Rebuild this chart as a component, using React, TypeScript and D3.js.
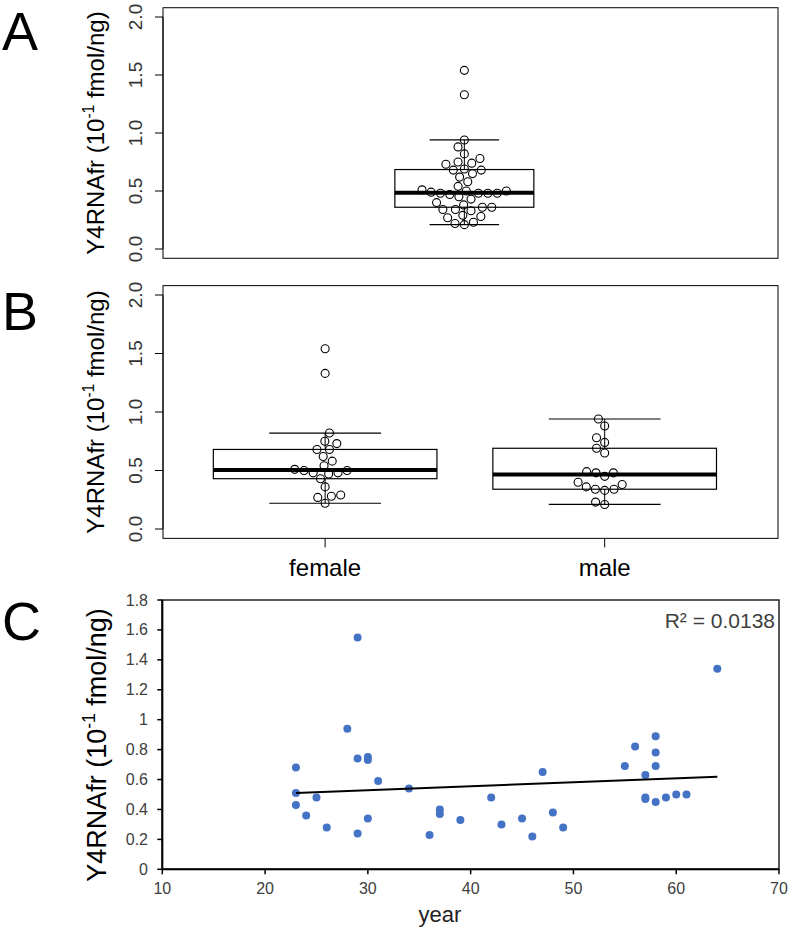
import React from 'react';
import * as d3 from 'd3';

// ---------- Data ----------
const femaleValues = [1.54, 1.33, 0.82, 0.75, 0.73, 0.68, 0.68, 0.62, 0.58, 0.54, 0.51, 0.5, 0.5, 0.48, 0.48, 0.47, 0.43, 0.36, 0.29, 0.28, 0.27, 0.22];
const maleValues = [0.94, 0.88, 0.78, 0.74, 0.69, 0.65, 0.49, 0.48, 0.48, 0.45, 0.4, 0.38, 0.36, 0.34, 0.34, 0.33, 0.23, 0.21];
const groupNames = ['female', 'male'];
const boxTicks = [0, 0.5, 1, 1.5, 2];
const boxTickLabels = ['0.0', '0.5', '1.0', '1.5', '2.0'];

const ages = [23, 23, 23, 24, 25, 26, 28, 29, 29, 29, 30, 30, 30, 31, 34, 36, 37, 37, 39, 42, 43, 45, 46, 47, 48, 49, 55, 56, 57, 57, 57, 58, 58, 58, 58, 59, 60, 61, 64];
const levels = [0.68, 0.51, 0.43, 0.36, 0.48, 0.28, 0.94, 1.55, 0.74, 0.24, 0.75, 0.73, 0.34, 0.59, 0.54, 0.23, 0.4, 0.37, 0.33, 0.48, 0.3, 0.34, 0.22, 0.65, 0.38, 0.28, 0.69, 0.82, 0.63, 0.48, 0.47, 0.89, 0.78, 0.69, 0.45, 0.48, 0.5, 0.5, 1.34];
const scatterYTicks = [0, 0.2, 0.4, 0.6, 0.8, 1, 1.2, 1.4, 1.6, 1.8];
const scatterXTicks = [10, 20, 30, 40, 50, 60, 70];
const r2Label = 'R² = 0.0138';

const FONT = "'Liberation Sans', Arial, Helvetica, sans-serif";

// ---------- helpers ----------
function fivenum(v: number[]) {
  const s = [...v].sort(d3.ascending);
  const n = s.length;
  const n4 = Math.floor((n + 3) / 2) / 2;
  const idx = [1, n4, (n + 1) / 2, n + 1 - n4, n];
  return idx.map((x) => 0.5 * (s[Math.floor(x) - 1] + s[Math.ceil(x) - 1]));
}

function boxStats(v: number[]) {
  const [, q1, med, q3] = fivenum(v);
  const iqr = q3 - q1;
  const lo = d3.min(v.filter((d) => d >= q1 - 1.5 * iqr)) as number;
  const hi = d3.max(v.filter((d) => d <= q3 + 1.5 * iqr)) as number;
  return { q1, med, q3, lo, hi };
}

// beeswarm (swarm) layout in pixel space: returns x offsets
function swarm(values: number[], y: (v: number) => number, d: number) {
  const order = d3.range(values.length).sort((a, b) => values[a] - values[b]);
  const placed: { x: number; y: number }[] = [];
  const out: number[] = new Array(values.length).fill(0);
  for (const i of order) {
    const py = y(values[i]);
    const cands = [0];
    for (const p of placed) {
      const dy = Math.abs(p.y - py);
      if (dy < d) {
        const dx = Math.sqrt(d * d - dy * dy);
        cands.push(p.x + dx, p.x - dx);
      }
    }
    cands.sort((a, b) => Math.abs(a) - Math.abs(b) || a - b);
    let chosen = 0;
    for (const c of cands) {
      const ok = placed.every((p) => Math.hypot(p.x - c, p.y - py) >= d - 1e-6);
      if (ok) {
        chosen = c;
        break;
      }
    }
    placed.push({ x: chosen, y: py });
    out[i] = chosen;
  }
  return out;
}

const YTitle = ({ x, y, size }: { x: number; y: number; size: number }) => (
  <text
    transform={`translate(${x},${y}) rotate(-90)`}
    textAnchor="middle"
    fontFamily={FONT}
    fontSize={size}
    fill="#000"
  >
    Y4RNAfr (10
    <tspan fontSize={size * 0.65} dy={-size * 0.4}>
      -1
    </tspan>
    <tspan dy={size * 0.4}> fmol/ng)</tspan>
  </text>
);

function BoxGroup({ values, cx, width, y }: { values: number[]; cx: number; width: number; y: d3.ScaleLinear<number, number> }) {
  const s = boxStats(values);
  const offs = swarm(values, y, 9.4);
  const half = width / 2;
  const capHalf = width / 4;
  return (
    <g>
      <line x1={cx} x2={cx} y1={y(s.hi)} y2={y(s.q3)} stroke="#000" strokeWidth={1} />
      <line x1={cx} x2={cx} y1={y(s.q1)} y2={y(s.lo)} stroke="#000" strokeWidth={1} />
      <line x1={cx - capHalf} x2={cx + capHalf} y1={y(s.hi)} y2={y(s.hi)} stroke="#000" strokeWidth={1.2} />
      <line x1={cx - capHalf} x2={cx + capHalf} y1={y(s.lo)} y2={y(s.lo)} stroke="#000" strokeWidth={1.2} />
      <rect x={cx - half} y={y(s.q3)} width={width} height={y(s.q1) - y(s.q3)} fill="none" stroke="#000" strokeWidth={1.2} />
      <line x1={cx - half} x2={cx + half} y1={y(s.med)} y2={y(s.med)} stroke="#000" strokeWidth={4} />
      {values.map((v, i) => (
        <circle key={i} cx={cx + offs[i]} cy={y(v)} r={4} fill="none" stroke="#000" strokeWidth={1.1} />
      ))}
    </g>
  );
}

function BoxYAxis({ y, left }: { y: d3.ScaleLinear<number, number>; left: number }) {
  return (
    <g>
      <line x1={left} x2={left} y1={y(0)} y2={y(2)} stroke="#000" />
      {boxTicks.map((t, i) => (
        <g key={t}>
          <line x1={left - 8} x2={left} y1={y(t)} y2={y(t)} stroke="#000" />
          <text
            transform={`translate(${left - 21},${y(t)}) rotate(-90)`}
            textAnchor="middle"
            fontFamily={FONT}
            fontSize={19}
            fill="#333"
          >
            {boxTickLabels[i]}
          </text>
        </g>
      ))}
    </g>
  );
}

export default function App() {
  const L = 163;
  const R = 778;

  // Panel A
  const yA = d3.scaleLinear().domain([0, 2]).range([249, 17]);
  const xA = d3.scaleLinear().domain([0.51, 1.51]).range([L, R]);
  const allValues = [...femaleValues, ...maleValues];

  // Panel B
  const yB = d3.scaleLinear().domain([0, 2]).range([529, 295]);
  const xB = d3.scaleLinear().domain([0.42, 2.62]).range([L, R]);
  const groupData = [femaleValues, maleValues];

  // Panel C
  const xC = d3.scaleLinear().domain([10, 70]).range([162.3, 779]);
  const yC = d3.scaleLinear().domain([0, 1.8]).range([869.3, 600]);
  const mx = d3.mean(ages) as number;
  const my = d3.mean(levels) as number;
  let sxy = 0;
  let sxx = 0;
  ages.forEach((a, i) => {
    sxy += (a - mx) * (levels[i] - my);
    sxx += (a - mx) * (a - mx);
  });
  const slope = sxy / sxx;
  const intercept = my - slope * mx;
  const [amin, amax] = d3.extent(ages) as [number, number];
  const fitLine = d3.line<number>().x((a) => xC(a)).y((a) => yC(intercept + slope * a));

  return (
    <svg width={791} height={930} style={{ position: 'absolute', left: 0, top: 0, background: '#fff' }} fontFamily={FONT}>
      <rect x={0} y={0} width={791} height={930} fill="#fff" />

      {/* Panel A */}
      <text x={2} y={50} fontSize={54} fontFamily={FONT}>A</text>
      <rect x={L} y={yA(2.08)} width={R - L} height={yA(-0.08) - yA(2.08)} fill="none" stroke="#000" strokeWidth={1} />
      <BoxYAxis y={yA} left={L} />
      <YTitle x={104} y={(yA(2.08) + yA(-0.08)) / 2} size={24} />
      <BoxGroup values={allValues} cx={xA(1)} width={xA(1.226) - xA(1)} y={yA} />

      {/* Panel B */}
      <text x={2} y={330} fontSize={54} fontFamily={FONT}>B</text>
      <rect x={L} y={yB(2.08)} width={R - L} height={yB(-0.08) - yB(2.08)} fill="none" stroke="#000" strokeWidth={1} />
      <BoxYAxis y={yB} left={L} />
      <YTitle x={104} y={(yB(2.08) + yB(-0.08)) / 2} size={24} />
      {groupData.map((vals, gi) => (
        <g key={gi}>
          <BoxGroup values={vals} cx={xB(gi + 1)} width={xB(1.8) - xB(1)} y={yB} />
          <line x1={xB(gi + 1)} x2={xB(gi + 1)} y1={yB(-0.08)} y2={yB(-0.08) + 9} stroke="#000" />
          <text x={xB(gi + 1)} y={576} textAnchor="middle" fontSize={24} fontFamily={FONT}>
            {groupNames[gi]}
          </text>
        </g>
      ))}

      {/* Panel C */}
      <text x={2} y={640} fontSize={54} fontFamily={FONT}>C</text>
      <rect x={xC(10)} y={yC(1.8)} width={xC(70) - xC(10)} height={yC(0) - yC(1.8)} fill="none" stroke="#222" strokeWidth={1.5} />
      <line x1={xC(10)} x2={xC(10)} y1={yC(0)} y2={yC(1.8)} stroke="#000" strokeWidth={2} />
      <line x1={xC(10)} x2={xC(70)} y1={yC(0)} y2={yC(0)} stroke="#000" strokeWidth={2} />
      {scatterYTicks.map((t) => (
        <g key={t}>
          <line x1={xC(10) - 5} x2={xC(10)} y1={yC(t)} y2={yC(t)} stroke="#000" strokeWidth={1.5} />
          <text x={148} y={yC(t) + 5.5} textAnchor="end" fontSize={16} fill="#404040" fontFamily={FONT}>
            {String(t)}
          </text>
        </g>
      ))}
      {scatterXTicks.map((t) => (
        <g key={t}>
          <line x1={xC(t)} x2={xC(t)} y1={yC(0)} y2={yC(0) + 5} stroke="#000" strokeWidth={1.5} />
          <text x={xC(t)} y={894} textAnchor="middle" fontSize={16} fill="#404040" fontFamily={FONT}>
            {String(t)}
          </text>
        </g>
      ))}
      <text x={440} y={922} textAnchor="middle" fontSize={22} fill="#222" fontFamily={FONT}>year</text>
      <YTitle x={106} y={745} size={27} />
      {ages.map((a, i) => (
        <circle key={i} cx={xC(a)} cy={yC(levels[i])} r={4} fill="#4472C4" />
      ))}
      <path d={fitLine([amin, amax]) || ''} stroke="#000" strokeWidth={2} fill="none" />
      <text x={775} y={628} textAnchor="end" fontSize={21} fill="#404040" fontFamily={FONT}>{r2Label}</text>
    </svg>
  );
}
